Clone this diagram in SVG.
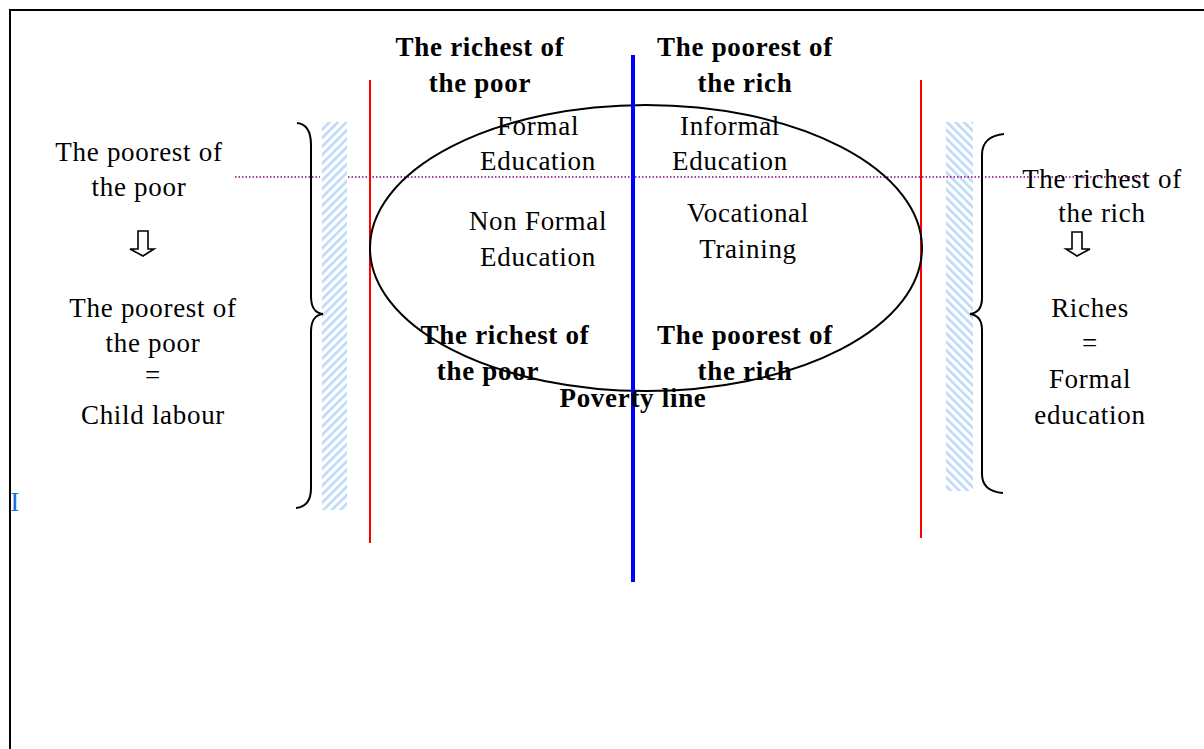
<svg xmlns="http://www.w3.org/2000/svg" width="1204" height="749" viewBox="0 0 1204 749">
  <style>
    text { font-family: "Liberation Serif", "DejaVu Serif", serif; font-size: 27px; letter-spacing: 0.7px; fill: #000; text-anchor: middle; }
    .b { font-weight: bold; }
    .frame { fill: none; stroke: #000; stroke-width: 2; }
    .red { stroke: #ff0000; stroke-width: 2; fill: none; }
    .blue { stroke: #0000ff; stroke-width: 4; fill: none; }
    .dots { stroke: #800080; stroke-width: 1.5; stroke-dasharray: 1.5 2; fill: none; }
    .brace { fill: none; stroke: #000; stroke-width: 2; }
    .arrow { fill: #fff; stroke: #000; stroke-width: 1.6; stroke-linejoin: miter; }
  </style>
  <defs>
    <pattern id="hatchL" patternUnits="userSpaceOnUse" width="6" height="6" patternTransform="rotate(45)">
      <rect width="6" height="6" fill="#fff"/>
      <rect width="2.6" height="6" fill="#bcdaf7"/>
    </pattern>
    <pattern id="hatchR" patternUnits="userSpaceOnUse" width="6" height="6" patternTransform="rotate(-45)">
      <rect width="6" height="6" fill="#fff"/>
      <rect width="2.6" height="6" fill="#bcdaf7"/>
    </pattern>
  </defs>

  <rect width="1204" height="749" fill="#fff"/>
  <!-- page frame -->
  <path class="frame" d="M10,760 V10 H1210"/>

  <!-- hatched bars -->
  <g id="bar-left"><rect x="322" y="122" width="25" height="388" fill="url(#hatchL)"/></g>
  <g id="bar-right"><rect x="946" y="122" width="27" height="369" fill="url(#hatchR)"/></g>

  <!-- guide lines -->
  <g id="connectors">
    <line class="dots" x1="235" y1="177" x2="320" y2="177"/>
    <line class="dots" x1="348" y1="177" x2="1146" y2="177"/>
    <line class="red" x1="370" y1="80" x2="370" y2="543"/>
    <line class="red" x1="921" y1="80" x2="921" y2="538"/>
  </g>

  <!-- braces -->
  <g id="brace-left">
    <path class="brace" d="M297,123 C307,124 311,132 311,145 V296 C311,308 315,313 323,314 C315,315 311,320 311,332 V488 C311,501 306,507 296,508"/>
  </g>
  <g id="brace-right">
    <path class="brace" d="M1004,134 C992,135 982,141 982,155 V298 C982,308 978,313 970,314 C978,315 982,320 982,330 V474 C982,487 990,492 1003,493"/>
  </g>

  <!-- central ellipse -->
  <g id="ellipse"><ellipse cx="646" cy="248" rx="276" ry="143" fill="none" stroke="#000" stroke-width="2"/></g>

  <!-- poverty line axis -->
  <g id="axis"><line class="blue" x1="633" y1="55" x2="633" y2="582"/></g>

  <!-- left column -->
  <g id="left-top">
    <text x="139" y="161">The poorest of</text>
    <text x="139" y="196">the poor</text>
  </g>
  <g id="arrow-left">
    <path class="arrow" d="M138,231 H148 V249 H154 L143,256 L130,249 H138 Z"/>
  </g>
  <g id="left-bottom">
    <text x="153" y="317">The poorest of</text>
    <text x="153" y="352">the poor</text>
    <text x="153" y="384">=</text>
    <text x="153" y="424">Child labour</text>
  </g>
  <g id="cursor"><text x="15" y="511" style="fill:#1a73d8">I</text></g>

  <!-- top labels -->
  <g id="top-left">
    <text class="b" x="480" y="56">The richest of</text>
    <text class="b" x="480" y="92">the poor</text>
  </g>
  <g id="top-right">
    <text class="b" x="745" y="56">The poorest of</text>
    <text class="b" x="745" y="92">the rich</text>
  </g>

  <!-- ellipse quadrants -->
  <g id="formal">
    <text x="538" y="135">Formal</text>
    <text x="538" y="170">Education</text>
  </g>
  <g id="informal">
    <text x="730" y="135">Informal</text>
    <text x="730" y="170">Education</text>
  </g>
  <g id="nonformal">
    <text x="538" y="230">Non Formal</text>
    <text x="538" y="266">Education</text>
  </g>
  <g id="vocational">
    <text x="748" y="222">Vocational</text>
    <text x="748" y="258">Training</text>
  </g>

  <!-- bottom labels -->
  <g id="bottom-left">
    <text class="b" x="505" y="344">The richest of</text>
    <text class="b" x="488" y="380">the poor</text>
  </g>
  <g id="bottom-right">
    <text class="b" x="745" y="344">The poorest of</text>
    <text class="b" x="745" y="380">the rich</text>
  </g>
  <g id="poverty-line"><text class="b" x="633" y="407">Poverty line</text></g>

  <!-- right column -->
  <g id="right-top">
    <text x="1102" y="188">The richest of</text>
    <text x="1102" y="222">the rich</text>
  </g>
  <g id="arrow-right">
    <path class="arrow" d="M1072,232 H1082 V249 H1090 L1077,256 L1066,249 H1072 Z"/>
  </g>
  <g id="right-bottom">
    <text x="1090" y="317">Riches</text>
    <text x="1090" y="352">=</text>
    <text x="1090" y="388">Formal</text>
    <text x="1090" y="424">education</text>
  </g>
</svg>
